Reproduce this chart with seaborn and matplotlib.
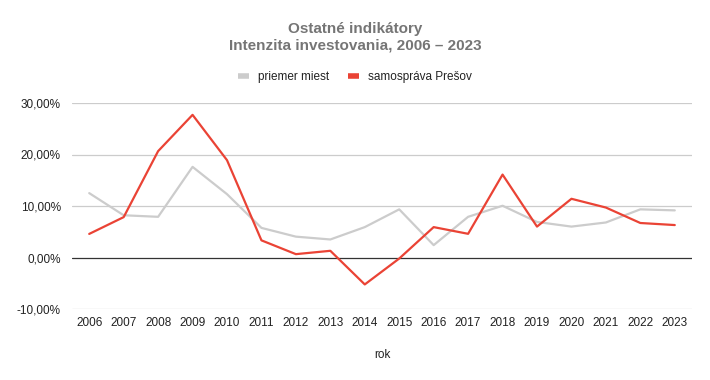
import matplotlib
matplotlib.use("Agg")
import matplotlib.pyplot as plt
import seaborn as sns
import pandas as pd
from matplotlib.ticker import FuncFormatter, FixedLocator

years = [str(y) for y in range(2006, 2024)]
priemer_miest = [12.5, 8.2, 7.9, 17.6, 12.3, 5.75, 4.05, 3.5, 5.9, 9.35,
                 2.4, 7.9, 10.05, 6.9, 6.0, 6.8, 9.35, 9.15]
samosprava_presov = [4.58, 7.84, 20.65, 27.7, 18.9, 3.33, 0.65, 1.3, -5.23, -0.2,
                     5.9, 4.6, 16.1, 6.0, 11.4, 9.7, 6.7, 6.3]
series_names = ["priemer miest", "samospráva Prešov"]
colors = ["#cccccc", "#ea4335"]
y_ticks = [-10, 0, 10, 20, 30]

df = pd.DataFrame({
    "rok": years * 2,
    "hodnota": priemer_miest + samosprava_presov,
    "séria": [series_names[0]] * len(years) + [series_names[1]] * len(years),
})

sns.set_theme(style="white")
plt.rcParams["font.family"] = ["Liberation Sans", "DejaVu Sans"]

fig = plt.figure(figsize=(7.1, 3.8), dpi=100)
ax = fig.add_axes([72 / 710, 1 - 309 / 380, 620 / 710, 206 / 380])

sns.lineplot(data=df, x="rok", y="hodnota", hue="séria", palette=colors,
             hue_order=series_names, sort=False, linewidth=1.6, ax=ax, legend=False)

ax.set_xlim(-0.5, len(years) - 0.5)
ax.set_ylim(-10, 30)
ax.yaxis.set_major_locator(FixedLocator(y_ticks))
ax.yaxis.set_major_formatter(FuncFormatter(lambda v, p: f"{v:.2f}".replace(".", ",") + "%"))
for t in y_ticks:
    ax.axhline(t, color="#333333" if t == 0 else "#cccccc", linewidth=0.9, zorder=0)
for s in ax.spines.values():
    s.set_visible(False)
ax.tick_params(axis="both", length=0, labelsize=8.5, labelcolor="#222222")
ax.tick_params(axis="y", pad=8)
ax.tick_params(axis="x", pad=6)
ax.set_ylabel("")
ax.set_xlabel("rok", fontsize=8.5, color="#222222", labelpad=14)

fig.text(0.5, 1 - 29 / 380, "Ostatné indikátory", ha="center", va="center",
         fontsize=11, fontweight="bold", color="#757575")
fig.text(0.5, 1 - 46 / 380, "Intenzita investovania, 2006 – 2023", ha="center", va="center",
         fontsize=11, fontweight="bold", color="#757575")

handles = [plt.Line2D([0], [0], color=c, linewidth=4, solid_capstyle="butt") for c in colors]
fig.legend(handles, series_names, loc="center", bbox_to_anchor=(0.5, 1 - 77 / 380),
           ncol=2, frameon=False, fontsize=8.5, handlelength=0.9, handletextpad=0.8,
           columnspacing=1.6, labelcolor="#222222")

fig.savefig("out.png", dpi=100)
